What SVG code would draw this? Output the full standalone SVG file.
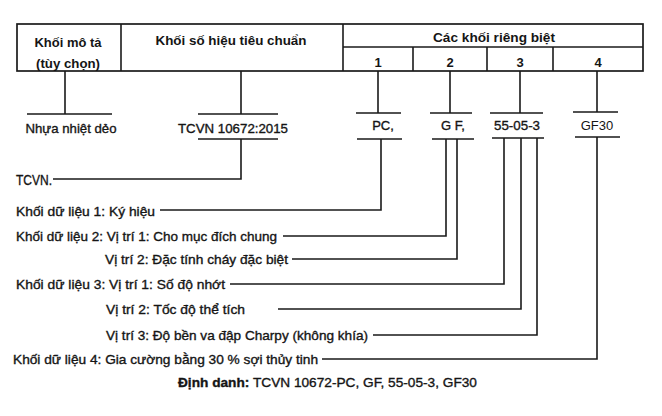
<svg xmlns="http://www.w3.org/2000/svg" width="662" height="416" viewBox="0 0 662 416">
<style>
.ln{stroke:#1a1a1a;stroke-width:1.6;fill:none}
.bx{stroke:#1a1a1a;stroke-width:1.7;fill:#fff}
.t{font-family:"Liberation Sans",Arial,sans-serif;font-size:13px;fill:#151515;stroke:#151515;stroke-width:0.35}
.h{font-family:"Liberation Sans",Arial,sans-serif;font-size:13px;font-weight:bold;fill:#151515}
.lb{font-family:"Liberation Sans",Arial,sans-serif;font-size:13px;fill:#151515;stroke:#151515;stroke-width:0.35;text-anchor:middle}
.c{text-anchor:middle}
</style>
<rect width="662" height="416" fill="#fff"/>
<g id="header">
<rect class="bx" x="17" y="24" width="626" height="47"/>
<line class="ln" x1="121" y1="24" x2="121" y2="71"/>
<line class="ln" x1="343" y1="24" x2="343" y2="71"/>
<line class="ln" x1="343" y1="47" x2="643" y2="47"/>
<line class="ln" x1="413" y1="47" x2="413" y2="71"/>
<line class="ln" x1="487" y1="47" x2="487" y2="71"/>
<line class="ln" x1="553" y1="47" x2="553" y2="71"/>
<text class="h c" x="68" y="47" textLength="67" lengthAdjust="spacingAndGlyphs">Khối mô tả</text>
<text class="h c" x="68" y="68" textLength="64" lengthAdjust="spacingAndGlyphs">(tùy chọn)</text>
<text class="h c" x="231" y="45" textLength="151" lengthAdjust="spacingAndGlyphs">Khối số hiệu tiêu chuẩn</text>
<text class="h c" x="494" y="42" textLength="122" lengthAdjust="spacingAndGlyphs">Các khối riêng biệt</text>
<text class="h c" x="378" y="67">1</text>
<text class="h c" x="450" y="67">2</text>
<text class="h c" x="520" y="67">3</text>
<text class="h c" x="598" y="67">4</text>
</g>
<g id="connectors">
<path class="ln" d="M65 71V114M27 114H112"/>
<path class="ln" d="M241 71V114M198 114H278M198 139H278M241 139V179H53"/>
<path class="ln" d="M378 71V113M356 113H401M357 139H402M381 139V210H160"/>
<path class="ln" d="M450 71V113M430 113H472M432 139H474M446 139V236H283M457 139V259H292"/>
<path class="ln" d="M520 71V113M490 113H543M492 138H544M504 138V284H230M521 138V309H278M537 138V335H373"/>
<path class="ln" d="M597 71V112M573 112H618M575 137H620M597 137V359H322"/>
</g>
<g id="labels">
<text class="lb" x="71" y="133" textLength="91" lengthAdjust="spacingAndGlyphs">Nhựa nhiệt dẻo</text>
<text class="lb" x="233" y="133" textLength="110" lengthAdjust="spacingAndGlyphs">TCVN 10672:2015</text>
<text class="lb" x="383" y="130">PC,</text>
<text class="lb" x="453" y="130">G F,</text>
<text class="lb" x="517" y="130" textLength="46" lengthAdjust="spacingAndGlyphs">55-05-3</text>
<text class="lb" x="597" y="130" style="stroke-width:0">GF30</text>
</g>
<g id="descriptions">
<text class="t" x="16" y="185" style="font-size:14px" textLength="36" lengthAdjust="spacingAndGlyphs">TCVN.</text>
<text class="t" x="16" y="216" textLength="139" lengthAdjust="spacingAndGlyphs">Khối dữ liệu 1: Ký hiệu</text>
<text class="t" x="16" y="241" textLength="261" lengthAdjust="spacingAndGlyphs">Khối dữ liệu 2: Vị trí 1: Cho mục đích chung</text>
<text class="t" x="105" y="264" textLength="183" lengthAdjust="spacingAndGlyphs">Vị trí 2: Đặc tính cháy đặc biệt</text>
<text class="t" x="16" y="289" textLength="209" lengthAdjust="spacingAndGlyphs">Khối dữ liệu 3: Vị trí 1: Số độ nhớt</text>
<text class="t" x="106" y="314" textLength="139" lengthAdjust="spacingAndGlyphs">Vị trí 2: Tốc độ thể tích</text>
<text class="t" x="106" y="340" textLength="262" lengthAdjust="spacingAndGlyphs">Vị trí 3: Độ bền va đập Charpy (không khía)</text>
<text class="t" x="13" y="364" textLength="305" lengthAdjust="spacingAndGlyphs">Khối dữ liệu 4: Gia cường bằng 30 % sợi thủy tinh</text>
<text class="t" x="178" y="387" textLength="299" lengthAdjust="spacingAndGlyphs"><tspan font-weight="bold">Định danh:</tspan> TCVN 10672-PC, GF, 55-05-3, GF30</text>
</g>
</svg>
